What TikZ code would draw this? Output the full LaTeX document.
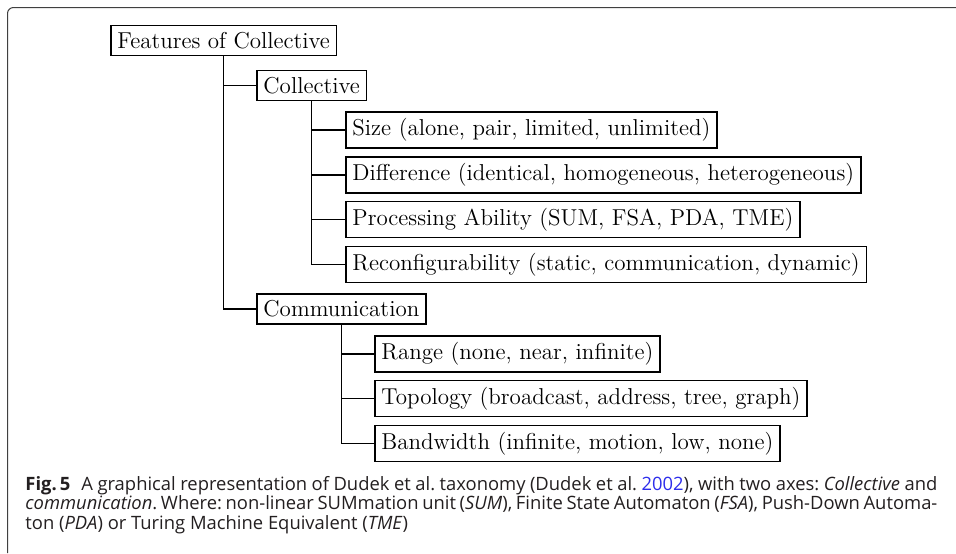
\documentclass[tikz,border=0pt]{standalone}
\usepackage{fontspec}
\newfontfamily\capfont{Open Sans}
\definecolor{citeblue}{RGB}{45,45,235}
\definecolor{capgray}{RGB}{35,31,32}
\tikzset{
  box/.style={draw, line width=0.8pt, anchor=west, font=\fontsize{11.5}{13}\selectfont},
  conn/.style={line width=0.75pt},
}
\begin{document}
\begin{tikzpicture}[x=0.5pt, y=-0.5pt]
    \useasboundingbox (0,0) rectangle (956,553);
    % Marco de la figura
    \draw[black!75, line width=0.5pt, rounded corners=3pt] (7.5,553) -- (7.5,7.5) -- (956,7.5);

    % Nodos del arbol
    \node[box] (root) at (110,40.5) {Features of Collective};
    \node[box] (coll) at (256,85.5) {Collective};
    \node[box] (size) at (345,130) {Size (alone, pair, limited, unlimited)};
    \node[box] (diff) at (345,175) {Difference (identical, homogeneous, heterogeneous)};
    \node[box] (proc) at (345,219.5) {Processing Ability (SUM, FSA, PDA, TME)};
    \node[box] (reconf) at (345,264.5) {Reconfigurability (static, communication, dynamic)};
    \node[box] (comm) at (256,309) {Communication};
    \node[box] (range) at (374,354) {Range (none, near, infinite)};
    \node[box] (topo) at (374,398.5) {Topology (broadcast, address, tree, graph)};
    \node[box] (band) at (374,443.5) {Bandwidth (infinite, motion, low, none)};

    % Conexiones
    \draw[conn] (root.south) |- (coll.west);
    \draw[conn] (root.south) |- (comm.west);
    \foreach \c in {size,diff,proc,reconf}
      \draw[conn] (coll.south) |- (\c.west);
    \foreach \c in {range,topo,band}
      \draw[conn] (comm.south) |- (\c.west);

    % Pie de figura
    \node[anchor=north west, inner sep=0pt, text width=456pt, align=justify,
          text=capgray, font=\capfont\fontsize{9.2}{9.75}\selectfont] (cap) at (25,476)
      {\frenchspacing\hyphenpenalty=10000\emergencystretch=2em
       {\bfseries Fig.\,5}\hspace{0.6em}A graphical representation of Dudek et al. taxonomy (Dudek et al.~\textcolor{citeblue}{2002}), with two axes: \textit{Collective} and\linebreak
       \textit{communication}. Where: non-linear SUMmation unit (\textit{SUM}), Finite State Automaton (\textit{FSA}), Push-Down Automa-\linebreak
       ton (\textit{PDA}) or Turing Machine Equivalent (\textit{TME})};
\end{tikzpicture}
\end{document}
